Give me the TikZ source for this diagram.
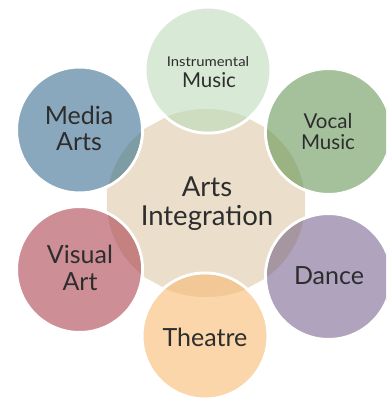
\documentclass[tikz,border=0pt]{standalone}
\usepackage{fontspec}
\setmainfont{Lato}
\newfontfamily\widelato[FakeStretch=1.1]{Lato}
\definecolor{beige}{RGB}{235,223,204}
\definecolor{instrC}{RGB}{216,233,213}
\definecolor{instrO}{RGB}{206,220,192}
\definecolor{mediaC}{RGB}{138,168,189}
\definecolor{mediaO}{RGB}{126,156,163}
\definecolor{vocalC}{RGB}{164,193,156}
\definecolor{vocalO}{RGB}{155,178,131}
\definecolor{danceC}{RGB}{175,163,190}
\definecolor{danceO}{RGB}{165,150,160}
\definecolor{theaC}{RGB}{250,214,170}
\definecolor{theaO}{RGB}{242,200,150}
\definecolor{visC}{RGB}{206,142,150}
\definecolor{visO}{RGB}{197,128,128}
\definecolor{txt}{RGB}{45,45,45}
\begin{document}
\begin{tikzpicture}[x=1pt,y=-1pt,
  petal/.style={circle,minimum size=126pt,inner sep=0pt,draw=white,line width=3pt},
  lbl/.style={anchor=base,inner sep=0pt,text=txt},
  hubtxt/.style={lbl,font=\fontsize{27.5}{32}\selectfont},
  big/.style={lbl,font=\fontsize{25}{30}\selectfont},
  mid/.style={lbl,font=\fontsize{20.5}{25}\selectfont},
  small/.style={lbl,font=\widelato\fontsize{13.5}{16}\selectfont}]
\useasboundingbox (0,0) rectangle (386,402);
\clip (0,0) rectangle (386,402);
% central shape
\def\hubpath{(206+102.5*cos 15,203+96.5*sin 15)
  \foreach \a in {45,75,...,345} {-- (206+102.5*cos \a,203+96.5*sin \a)} -- cycle}
\fill[beige] \hubpath;
\coordinate (hub) at (206,203);
% petals
\node[petal,fill=instrC] (instr) at (208,70) {};
\node[petal,fill=mediaC] (media) at (79.5,130) {};
\node[petal,fill=vocalC] (vocal) at (328.5,131.5) {};
\node[petal,fill=visC] (visual) at (79.5,269.5) {};
\node[petal,fill=danceC] (dance) at (328.5,276.5) {};
\node[petal,fill=theaC] (theatre) at (205,336) {};
% overlaps with the round core of the hub
\begin{scope}
\clip (hub) ellipse [x radius=99, y radius=94];
\fill[instrO] (instr.center) circle (61.5);
\fill[mediaO] (media.center) circle (61.5);
\fill[vocalO] (vocal.center) circle (61.5);
\fill[visO] (visual.center) circle (61.5);
\fill[danceO] (dance.center) circle (61.5);
\fill[theaO] (theatre.center) circle (61.5);
\end{scope}
% labels
\node[hubtxt] (hub1) at (207,196) {Arts};
\node[hubtxt] (hub2) at (207,225) {Integration};
\node[small] (instr1) at (208,66) {Instrumental};
\node[mid] (instr2) at (209,87) {Music};
\node[big] (media1) at (79,124) {Media};
\node[big] (media2) at (79,150) {Arts};
\node[mid] (vocal1) at (328,128) {Vocal};
\node[mid] (vocal2) at (328,149) {Music};
\node[big] (vis1) at (80,263) {Visual};
\node[big] (vis2) at (80,290) {Art};
\node[big] (dance1) at (329,284) {Dance};
\node[big] (thea1) at (205,346) {Theatre};
\end{tikzpicture}
\end{document}
